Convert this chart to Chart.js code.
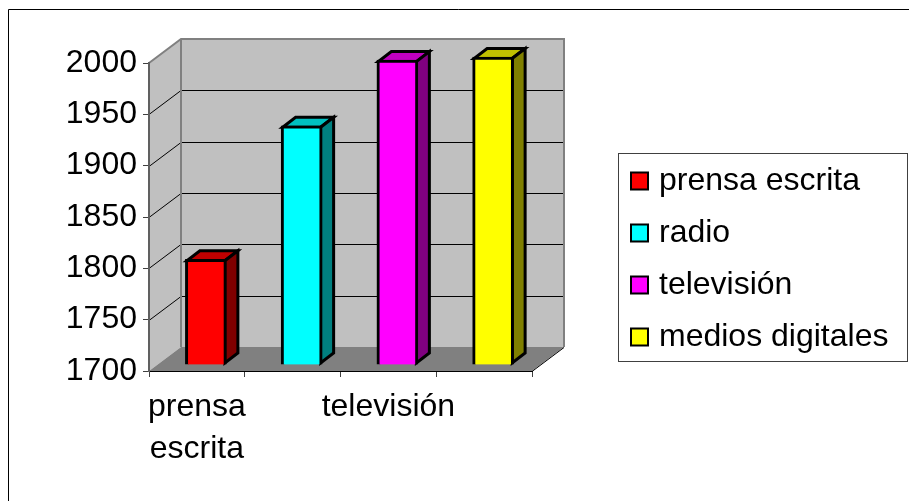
<!DOCTYPE html>
<html>
<head>
<meta charset="utf-8">
<style>html,body{margin:0;padding:0;background:#fff}canvas{display:block}</style>
<script src="https://cdn.jsdelivr.net/npm/chart.js@4"></script>
</head>
<body>
<canvas id="c" width="909" height="501"></canvas>
<script>
const categories = ["prensa escrita", "radio", "televisión", "medios digitales"];
const values = [1803, 1933, 1997, 2000];
const frontColors = ["#ff0000", "#00ffff", "#ff00ff", "#ffff00"];
const topColors = ["#c00000", "#00c0c0", "#c000c0", "#c0c000"];
const sideColors = ["#800000", "#008080", "#800080", "#808000"];
const xTickLabels = [["prensa", "escrita"], "", "televisión", ""];
const yMin = 1700, yMax = 2000, yStep = 50;

const FONT = "'Liberation Sans', Arial, sans-serif";
const WALL = {dx: 32, dy: -24};
const BAR_SHIFT = {dx: 9, dy: -6};
const BAR_DEPTH = {dx: 13, dy: -10};
const BAR_EDGE = 3;
const LEGEND_FRAME = {l: 618, t: 153, r: 907, b: 361};

function poly(ctx, pts, fill, stroke, lw) {
  ctx.beginPath();
  pts.forEach((p, i) => i ? ctx.lineTo(p[0], p[1]) : ctx.moveTo(p[0], p[1]));
  ctx.closePath();
  if (fill) { ctx.fillStyle = fill; ctx.fill(); }
  if (stroke) { ctx.strokeStyle = stroke; ctx.lineWidth = lw; ctx.lineJoin = "miter"; ctx.stroke(); }
}

const scene3d = {
  id: "scene3d",
  afterLayout(chart) {
    const lg = chart.legend;
    lg.left = LEGEND_FRAME.l - 2; lg.right = LEGEND_FRAME.r;
    lg.top = LEGEND_FRAME.t - 8; lg.bottom = 501;
  },
  beforeDraw(chart) {
    const ctx = chart.ctx, a = chart.chartArea, y = chart.scales.y;
    const {left: l, right: r, top: t, bottom: b} = a;
    const d = WALL;
    ctx.save();
    ctx.strokeStyle = "#000"; ctx.lineWidth = 1;
    ctx.beginPath(); ctx.moveTo(8.5, 501); ctx.lineTo(8.5, 9.5); ctx.lineTo(909, 9.5); ctx.stroke();
    const f = LEGEND_FRAME;
    ctx.strokeStyle = "#404040";
    ctx.strokeRect(f.l + .5, f.t + .5, f.r - f.l, f.b - f.t);
    poly(ctx, [[l, t], [l + d.dx, t + d.dy], [l + d.dx, b + d.dy], [l, b]], "#c0c0c0");
    poly(ctx, [[l + d.dx, t + d.dy], [r + d.dx, t + d.dy], [r + d.dx, b + d.dy], [l + d.dx, b + d.dy]], "#c0c0c0");
    ctx.strokeStyle = "#000"; ctx.lineWidth = 1;
    y.ticks.forEach(tk => {
      const py = Math.round(y.getPixelForValue(tk.value));
      if (tk.value === yMin || tk.value === yMax) return;
      ctx.beginPath();
      ctx.moveTo(l, py + .5);
      ctx.lineTo(l + d.dx, py + d.dy + .5);
      ctx.lineTo(r + d.dx, py + d.dy + .5);
      ctx.stroke();
    });
    ctx.strokeStyle = "#808080"; ctx.lineWidth = 2;
    ctx.beginPath();
    ctx.moveTo(l, t); ctx.lineTo(l + d.dx, t + d.dy); ctx.lineTo(r + d.dx, t + d.dy); ctx.lineTo(r + d.dx, b + d.dy);
    ctx.moveTo(l + d.dx, t + d.dy); ctx.lineTo(l + d.dx, b + d.dy);
    ctx.stroke();
    poly(ctx, [[l, b], [r, b], [r + d.dx, b + d.dy], [l + d.dx, b + d.dy]], "#808080");
    ctx.strokeStyle = "#000"; ctx.lineWidth = 1;
    ctx.beginPath(); ctx.moveTo(r, b + .5); ctx.lineTo(r + d.dx, b + d.dy + .5); ctx.stroke();
    ctx.restore();
  },
  beforeDatasetsDraw(chart) {
    const ctx = chart.ctx;
    ctx.save();
    ctx.translate(BAR_SHIFT.dx, BAR_SHIFT.dy);
    const e = BAR_EDGE / 2;
    chart.getDatasetMeta(0).data.forEach((bar, i) => {
      const L = bar.x - bar.width / 2 + e, R = bar.x + bar.width / 2 - e, T = bar.y + e, B = bar.base - e;
      const dx = BAR_DEPTH.dx, dy = BAR_DEPTH.dy;
      poly(ctx, [[L, T], [R, T], [R + dx, T + dy], [L + dx, T + dy]], topColors[i], "#000", BAR_EDGE);
      poly(ctx, [[R, T], [R + dx, T + dy], [R + dx, B + dy], [R, B]], sideColors[i], "#000", BAR_EDGE);
    });
  },
  afterDatasetsDraw(chart) {
    chart.ctx.restore();
  }
};

new Chart(document.getElementById("c"), {
  type: "bar",
  plugins: [scene3d],
  data: {
    labels: categories,
    datasets: [{
      data: values,
      base: yMin,
      backgroundColor: frontColors,
      borderColor: "#000",
      borderWidth: BAR_EDGE,
      barThickness: 41,
      clip: false
    }]
  },
  options: {
    responsive: false,
    animation: false,
    devicePixelRatio: 1,
    layout: {padding: {top: 63, left: 0, right: 177, bottom: 0}},
    font: {family: FONT},
    scales: {
      x: {
        offset: true,
        afterFit(s) { s.height = 130; },
        grid: {drawOnChartArea: false, drawTicks: true, tickLength: 6, color: "#404040", offset: true},
        border: {color: "#000", width: 1},
        ticks: {
          autoSkip: false, maxRotation: 0, padding: 9, color: "#000",
          font: {family: FONT, size: 32, lineHeight: 1.31},
          callback(v, i) { return xTickLabels[i]; }
        }
      },
      y: {
        min: yMin, max: yMax,
        afterFit(s) { s.width = 149; },
        grid: {drawOnChartArea: false, drawTicks: true, tickLength: 6, color: "#404040"},
        border: {color: "#606060", width: 2},
        ticks: {
          stepSize: yStep, padding: 6, color: "#000",
          font: {family: FONT, size: 32},
          callback(v) { return String(v); }
        }
      }
    },
    plugins: {
      tooltip: {enabled: false},
      title: {display: false},
      legend: {
        display: true,
        position: "right",
        align: "start",
        maxWidth: 200,
        labels: {
          color: "#000",
          font: {family: FONT, size: 32},
          usePointStyle: true,
          pointStyle: "rect",
          boxWidth: 7,
          boxHeight: 17,
          padding: 20,
          generateLabels() {
            return categories.map((c, i) => ({
              text: c, fillStyle: frontColors[i], strokeStyle: "#000",
              lineWidth: 2, pointStyle: "rect", hidden: false, index: i, datasetIndex: 0
            }));
          }
        }
      }
    }
  }
});
</script>
</body>
</html>
